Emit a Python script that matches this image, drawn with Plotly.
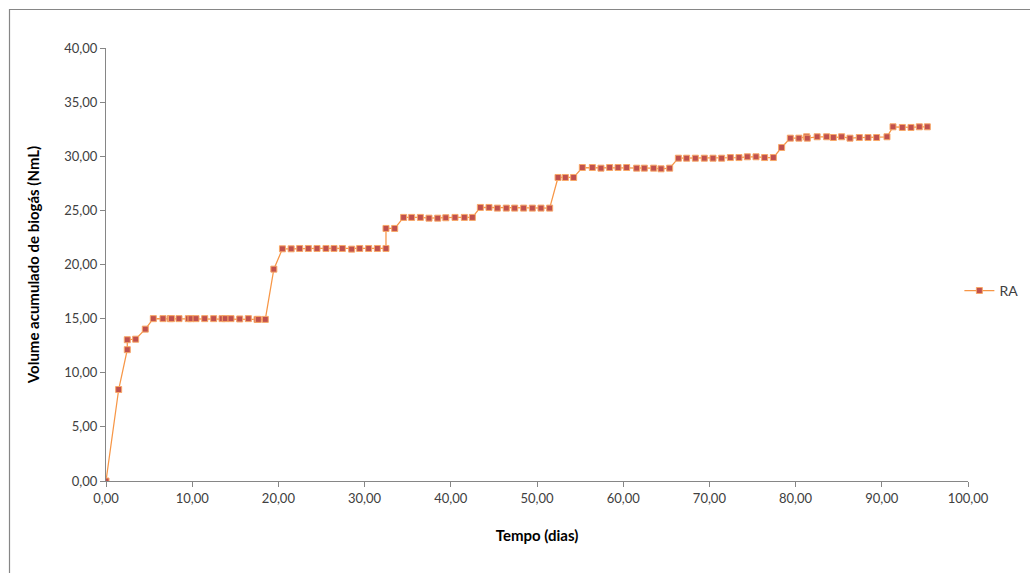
import plotly.graph_objects as go

# Tempo de digestão (dias) e volume acumulado de biogás (NmL) - reator RA
tempo_dias = [
    0.00, 1.47, 2.47, 2.47, 3.44, 4.56, 5.49, 6.61, 7.45, 7.60,
    8.47, 9.55, 9.86, 10.44, 11.45, 12.49, 13.46, 13.84, 14.50, 15.51,
    16.51, 17.52, 17.67, 18.48, 19.47, 20.47, 21.48, 22.47, 23.47, 24.48,
    25.52, 26.45, 27.42, 28.50, 29.43, 30.47, 31.48, 32.48, 32.48, 33.49,
    34.53, 35.46, 36.47, 37.47, 38.48, 39.42, 40.49, 41.57, 42.50, 43.43,
    44.43, 45.40, 46.44, 47.41, 48.45, 49.46, 50.46, 51.47, 52.44, 53.29,
    54.25, 55.26, 56.42, 57.42, 58.43, 59.40, 60.40, 61.56, 62.45, 63.53,
    64.39, 65.39, 66.40, 67.36, 68.37, 69.41, 70.42, 71.42, 72.43, 73.43,
    74.40, 75.41, 76.41, 77.42, 78.38, 79.39, 80.38, 81.28, 81.36, 82.50,
    83.60, 84.38, 85.34, 86.31, 87.39, 88.40, 89.40, 90.60, 91.30, 92.38,
    93.39, 94.35, 95.28,
]
volume_ra = [
    0.00, 8.45, 12.13, 13.05, 13.10, 14.03, 15.00, 15.00, 15.00, 15.00,
    15.00, 15.00, 15.00, 15.00, 15.00, 15.00, 15.00, 15.00, 15.00, 14.97,
    15.00, 14.93, 14.93, 14.93, 19.57, 21.45, 21.45, 21.48, 21.48, 21.48,
    21.48, 21.48, 21.48, 21.42, 21.48, 21.48, 21.48, 21.48, 23.33, 23.33,
    24.35, 24.35, 24.35, 24.28, 24.28, 24.32, 24.35, 24.35, 24.35, 25.27,
    25.27, 25.21, 25.21, 25.21, 25.21, 25.21, 25.21, 25.21, 28.04, 28.04,
    28.04, 28.96, 28.96, 28.90, 28.96, 28.96, 28.96, 28.90, 28.90, 28.90,
    28.84, 28.90, 29.82, 29.82, 29.82, 29.82, 29.82, 29.82, 29.88, 29.88,
    29.95, 29.95, 29.88, 29.88, 30.81, 31.67, 31.67, 31.80, 31.67, 31.80,
    31.80, 31.73, 31.80, 31.67, 31.73, 31.73, 31.73, 31.80, 32.72, 32.66,
    32.66, 32.72, 32.72,
]
serie_nome = "RA"

FONT = "Lato, Calibri, Carlito, sans-serif"
AXIS_GRAY = "#868686"
TICK_TEXT = "#404040"

fig = go.Figure()
fig.add_trace(go.Scatter(
    x=tempo_dias,
    y=volume_ra,
    name=serie_nome,
    mode="lines+markers",
    line=dict(color="#F79646", width=1.25),
    marker=dict(symbol="square", size=6, color="#C0504D",
                line=dict(color="#F8A868", width=1)),
))

fig.update_layout(
    width=1030,
    height=573,
    margin=dict(l=106, r=62, t=48, b=92, autoexpand=False),
    paper_bgcolor="white",
    plot_bgcolor="white",
    separators=",.",
    font=dict(family=FONT, size=13, color=TICK_TEXT),
    showlegend=True,
    legend=dict(
        x=0.990, y=0.439, xanchor="left", yanchor="middle",
        font=dict(family=FONT, size=14, color=TICK_TEXT),
        bgcolor="rgba(0,0,0,0)", itemwidth=30,
    ),
    xaxis=dict(
        range=[0, 100], tick0=0, dtick=10, tickformat=".2f",
        showgrid=False, zeroline=False,
        showline=True, linecolor=AXIS_GRAY, linewidth=1,
        ticks="outside", ticklen=5, tickcolor=AXIS_GRAY,
        tickfont=dict(family=FONT, size=13, color=TICK_TEXT),
        title=dict(text="<b>Tempo (dias)</b>", standoff=25,
                   font=dict(family=FONT, size=15, color="#000000")),
    ),
    yaxis=dict(
        range=[0, 40], tick0=0, dtick=5, tickformat=".2f",
        showgrid=False, zeroline=False,
        showline=True, linecolor=AXIS_GRAY, linewidth=1,
        ticks="outside", ticklen=5, tickcolor=AXIS_GRAY,
        tickfont=dict(family=FONT, size=13, color=TICK_TEXT),
        title=dict(text="<b>Volume acumulado de biogás (NmL)</b>", standoff=21,
                   font=dict(family=FONT, size=15, color="#000000")),
    ),
    shapes=[
        # chart-area frame (top and left edges visible on the page)
        dict(type="rect", xref="paper", yref="paper",
             x0=(9.5 - 106) / 862, x1=1.2,
             y0=-0.3, y1=(481 - 9.5) / 433,
             line=dict(color=AXIS_GRAY, width=1.2), layer="below"),
    ],
)

fig.write_html("out.html")
